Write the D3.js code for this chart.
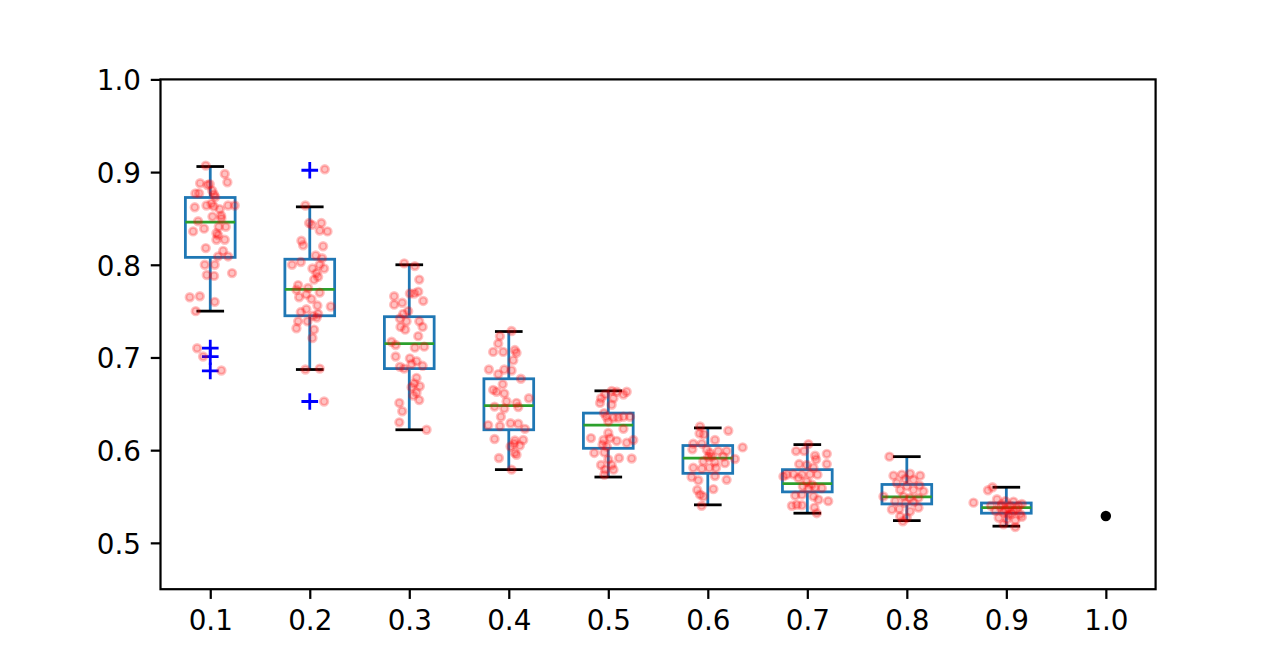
<!DOCTYPE html>
<html>
<head>
<meta charset="utf-8">
<script src="https://cdn.jsdelivr.net/npm/d3@7"></script>
<style>
  html, body { margin: 0; padding: 0; background: #fff; }
  svg { display: block; }
  text { font-family: "DejaVu Sans", sans-serif; }
</style>
</head>
<body>
<svg id="chart" width="1284" height="662"></svg>
<script>
// ---------- data ----------
const categories = ["0.1","0.2","0.3","0.4","0.5","0.6","0.7","0.8","0.9","1.0"];
const yTicks = [0.5, 0.6, 0.7, 0.8, 0.9, 1.0];

// box statistics per category (first nine categories)
const whiskerLow  = [0.750, 0.687, 0.622, 0.579, 0.571, 0.541, 0.532, 0.524, 0.518];
const quartile1   = [0.808, 0.745, 0.688, 0.622, 0.602, 0.575, 0.555, 0.542, 0.532];
const medians     = [0.846, 0.7735, 0.715, 0.648, 0.627, 0.5915, 0.564, 0.5495, 0.538];
const quartile3   = [0.8726, 0.806, 0.744, 0.677, 0.640, 0.605, 0.579, 0.563, 0.543];
const whiskerHigh = [0.906, 0.8625, 0.800, 0.728, 0.664, 0.624, 0.606, 0.593, 0.560];
const fliers      = [[0.710, 0.701, 0.6855], [0.902, 0.6525], [], [], [], [], [], [], []];

// the lone value at 1.0
const singleCategory = ["1.0"];
const singleValue = [0.529];

// jittered samples: [horizontal jitter (category units), value]
const samples01 = [[-0.045,0.907],[0.146,0.898],[0.172,0.889],[-0.102,0.888],[-0.005,0.887],[-0.028,0.886],[-0.149,0.877],[-0.112,0.877],[0.038,0.876],[0.012,0.866],[-0.038,0.864],[0.035,0.863],[0.179,0.864],[0.246,0.864],[-0.156,0.862],[0.095,0.860],[0.022,0.852],[0.112,0.850],[-0.122,0.847],[-0.172,0.836],[-0.062,0.839],[0.085,0.841],[0.156,0.841],[0.062,0.834],[0.062,0.827],[0.146,0.827],[-0.045,0.818],[0.129,0.815],[0.079,0.809],[0.179,0.809],[-0.055,0.800],[0.045,0.800],[-0.035,0.789],[0.038,0.788],[0.219,0.791],[-0.206,0.765],[-0.105,0.766],[0.045,0.760],[-0.146,0.750],[-0.132,0.710],[-0.072,0.701],[0.112,0.686],[0.020,0.880],[0.050,0.873],[0.110,0.853],[0.080,0.832]];
const samples02 = [[0.151,0.903],[-0.044,0.864],[-0.007,0.845],[0.023,0.843],[0.117,0.845],[0.100,0.837],[0.178,0.836],[-0.084,0.826],[-0.067,0.821],[0.134,0.820],[0.060,0.810],[0.124,0.807],[-0.178,0.800],[-0.090,0.803],[0.027,0.796],[0.100,0.800],[0.144,0.796],[0.067,0.791],[0.084,0.787],[0.043,0.784],[-0.117,0.778],[-0.017,0.775],[-0.134,0.773],[0.100,0.770],[-0.107,0.765],[-0.034,0.768],[0.017,0.763],[0.077,0.756],[0.211,0.755],[-0.034,0.752],[-0.090,0.749],[0.033,0.745],[0.084,0.747],[-0.117,0.739],[-0.023,0.739],[-0.134,0.7315],[0.043,0.730],[0.027,0.721],[-0.044,0.687],[0.100,0.688],[0.144,0.6525],[0.070,0.743]];
const samples03 = [[-0.051,0.8015],[0.056,0.7986],[0.100,0.784],[-0.152,0.766],[0.006,0.769],[0.050,0.769],[0.090,0.771],[0.140,0.761],[-0.152,0.757],[-0.071,0.759],[-0.011,0.750],[-0.061,0.747],[-0.094,0.742],[-0.027,0.739],[0.100,0.739],[-0.088,0.733],[-0.041,0.730],[0.134,0.733],[0.090,0.723],[-0.178,0.717],[-0.137,0.7135],[0.056,0.7106],[0.150,0.7117],[-0.137,0.701],[0.006,0.699],[0.073,0.696],[0.023,0.693],[-0.094,0.690],[-0.051,0.688],[0.134,0.691],[0.073,0.678],[0.050,0.672],[0.106,0.669],[0.023,0.668],[0.073,0.662],[0.040,0.659],[0.100,0.654],[-0.100,0.651],[-0.071,0.642],[-0.100,0.630],[0.174,0.622]];
const samples04 = [[0.028,0.7286],[-0.089,0.723],[-0.106,0.715],[-0.157,0.706],[-0.056,0.706],[0.061,0.708],[0.078,0.705],[0.045,0.697],[-0.200,0.687],[-0.045,0.687],[0.028,0.686],[-0.106,0.682],[0.122,0.677],[-0.061,0.671],[-0.157,0.665],[-0.123,0.663],[-0.045,0.661],[0.202,0.656],[-0.022,0.6525],[0.078,0.651],[-0.143,0.647],[-0.045,0.645],[0.095,0.6465],[-0.079,0.636],[-0.207,0.627],[-0.089,0.626],[0.018,0.629],[0.095,0.6285],[0.162,0.623],[-0.143,0.612],[0.061,0.6105],[0.145,0.611],[0.018,0.604],[0.111,0.605],[0.061,0.597],[0.078,0.595],[-0.099,0.5915],[0.028,0.579],[0.055,0.607]];
const samples05 = [[0.034,0.664],[0.085,0.663],[0.185,0.663],[-0.033,0.660],[-0.073,0.656],[0.052,0.656],[0.152,0.660],[-0.083,0.651],[0.034,0.649],[-0.043,0.640],[-0.020,0.636],[0.052,0.635],[0.100,0.635],[0.152,0.636],[0.218,0.636],[0.000,0.631],[0.152,0.623],[0.000,0.6185],[-0.174,0.613],[-0.048,0.611],[0.017,0.613],[0.085,0.610],[0.185,0.608],[0.251,0.611],[-0.058,0.606],[-0.015,0.604],[-0.141,0.597],[-0.040,0.5976],[0.108,0.5915],[0.235,0.591],[0.000,0.590],[-0.073,0.584],[0.034,0.584],[-0.033,0.579],[0.052,0.579],[-0.040,0.5735]];
const samples06 = [[-0.078,0.6256],[0.206,0.621],[-0.083,0.618],[-0.040,0.617],[0.072,0.611],[-0.146,0.607],[-0.060,0.607],[0.350,0.603],[-0.155,0.601],[-0.010,0.6005],[0.022,0.597],[0.105,0.599],[0.189,0.599],[0.039,0.593],[0.156,0.593],[0.273,0.5905],[-0.045,0.588],[0.072,0.587],[0.172,0.586],[-0.146,0.581],[-0.060,0.580],[0.016,0.581],[0.083,0.581],[-0.163,0.571],[-0.095,0.5675],[0.072,0.572],[0.189,0.568],[0.056,0.558],[-0.106,0.557],[-0.078,0.552],[-0.045,0.550],[-0.062,0.540],[0.005,0.5926]];
const samples07 = [[0.011,0.6065],[-0.113,0.599],[-0.032,0.599],[0.078,0.594],[0.196,0.596],[0.088,0.590],[-0.082,0.585],[-0.005,0.584],[0.196,0.585],[0.062,0.581],[-0.139,0.574],[-0.206,0.5736],[-0.240,0.5717],[-0.054,0.5736],[0.028,0.574],[0.102,0.5736],[-0.089,0.570],[-0.005,0.566],[0.045,0.563],[-0.045,0.561],[0.078,0.560],[0.011,0.5585],[0.146,0.559],[-0.122,0.551],[-0.054,0.552],[0.062,0.550],[0.112,0.5466],[-0.105,0.541],[-0.155,0.540],[-0.054,0.5405],[0.210,0.545],[0.072,0.538],[0.095,0.532]];
const samples08 = [[-0.175,0.593],[-0.134,0.5725],[-0.050,0.5736],[0.033,0.5746],[0.134,0.5725],[-0.017,0.569],[0.067,0.568],[-0.100,0.5646],[0.127,0.562],[0.000,0.561],[-0.067,0.557],[0.067,0.557],[0.167,0.5556],[-0.235,0.550],[-0.034,0.550],[0.033,0.5485],[0.117,0.5485],[-0.117,0.545],[-0.017,0.543],[0.067,0.544],[-0.150,0.536],[-0.075,0.5366],[0.033,0.534],[0.117,0.538],[-0.067,0.5286],[0.000,0.527],[-0.040,0.5233]];
const samples09 = [[-0.139,0.560],[-0.185,0.5567],[-0.330,0.5434],[-0.094,0.547],[-0.011,0.545],[0.072,0.5445],[0.156,0.542],[-0.155,0.540],[-0.064,0.539],[0.023,0.537],[0.106,0.536],[-0.110,0.5345],[-0.028,0.533],[0.056,0.5316],[0.140,0.531],[-0.077,0.527],[0.006,0.5254],[0.090,0.524],[-0.028,0.520],[0.090,0.517],[0.156,0.528],[-0.044,0.5416],[0.039,0.540],[-0.011,0.536],[0.072,0.5345],[0.023,0.530],[0.125,0.540]];
const samplesByCategory = [samples01, samples02, samples03, samples04, samples05, samples06, samples07, samples08, samples09];

// ---------- layout ----------
const W = 1284, H = 662;
const plot = { left: 160.5, right: 1155.6, top: 79.4, bottom: 589.2 };
const PT = 2.78;                // pixels per point
const FONT = 27.8;

const svg = d3.select("#chart");

const x = d3.scaleLinear().domain([0.5, categories.length + 0.5]).range([plot.left, plot.right]);
const y = d3.scaleLinear().domain([0.45, 1.0]).range([plot.bottom, plot.top]);
const posOf = label => categories.indexOf(label) + 1;

const boxHalf = 0.25, capHalf = 0.125;
const boxColor = "#1f77b4", medianColor = "#2ca02c";
const lw = 1.0 * PT;

const gBox = svg.append("g");
const boxData = d3.range(whiskerLow.length).map(i => ({
  pos: i + 1, lo: whiskerLow[i], q1: quartile1[i], med: medians[i], q3: quartile3[i], hi: whiskerHigh[i], fl: fliers[i]
}));

const b = gBox.selectAll("g.box").data(boxData).join("g").attr("class", "box");
// whiskers
b.append("line").attr("x1", d => x(d.pos)).attr("x2", d => x(d.pos))
  .attr("y1", d => y(d.q1)).attr("y2", d => y(d.lo))
  .attr("stroke", boxColor).attr("stroke-width", lw);
b.append("line").attr("x1", d => x(d.pos)).attr("x2", d => x(d.pos))
  .attr("y1", d => y(d.q3)).attr("y2", d => y(d.hi))
  .attr("stroke", boxColor).attr("stroke-width", lw);
// caps
b.append("line").attr("x1", d => x(d.pos - capHalf)).attr("x2", d => x(d.pos + capHalf))
  .attr("y1", d => y(d.lo)).attr("y2", d => y(d.lo))
  .attr("stroke", "#000").attr("stroke-width", lw).attr("stroke-linecap", "square");
b.append("line").attr("x1", d => x(d.pos - capHalf)).attr("x2", d => x(d.pos + capHalf))
  .attr("y1", d => y(d.hi)).attr("y2", d => y(d.hi))
  .attr("stroke", "#000").attr("stroke-width", lw).attr("stroke-linecap", "square");
// box
b.append("rect").attr("x", d => x(d.pos - boxHalf)).attr("width", d => x(d.pos + boxHalf) - x(d.pos - boxHalf))
  .attr("y", d => y(d.q3)).attr("height", d => y(d.q1) - y(d.q3))
  .attr("fill", "none").attr("stroke", boxColor).attr("stroke-width", lw);
// median
b.append("line").attr("x1", d => x(d.pos - boxHalf)).attr("x2", d => x(d.pos + boxHalf))
  .attr("y1", d => y(d.med)).attr("y2", d => y(d.med))
  .attr("stroke", medianColor).attr("stroke-width", lw);
// fliers (+)
const plusHalf = 3 * PT;
b.each(function(d) {
  const g = d3.select(this);
  g.selectAll("path.flier").data(d.fl).join("path").attr("class", "flier")
    .attr("d", v => `M${x(d.pos) - plusHalf},${y(v)}H${x(d.pos) + plusHalf}M${x(d.pos)},${y(v) - plusHalf}V${y(v) + plusHalf}`)
    .attr("stroke", "#0000ff").attr("stroke-width", lw).attr("fill", "none");
});

// jittered samples
const gPts = svg.append("g");
samplesByCategory.forEach((arr, i) => {
  gPts.selectAll(null).data(arr).join("circle")
    .attr("cx", d => x(i + 1 + d[0]))
    .attr("cy", d => y(d[1]))
    .attr("r", 3.8)
    .attr("fill", "#ff0000").attr("fill-opacity", 0.24)
    .attr("stroke", "#ff0000").attr("stroke-opacity", 0.24).attr("stroke-width", 2.8);
});

// lone point at 1.0
svg.append("g").selectAll("circle").data(singleValue).join("circle")
  .attr("cx", (d, i) => x(posOf(singleCategory[i])))
  .attr("cy", d => y(d))
  .attr("r", 5.2)
  .attr("fill", "#000");

// ---------- axes ----------
const tickLen = 3.5 * PT;
const xAxis = d3.axisBottom(x)
  .tickValues(d3.range(1, categories.length + 1))
  .tickFormat(v => categories[v - 1])
  .tickSizeInner(tickLen).tickSizeOuter(0).tickPadding(11.5);
const gx = svg.append("g").attr("transform", `translate(0,${plot.bottom})`).call(xAxis);
gx.select(".domain").remove();
gx.selectAll(".tick line").attr("stroke", "#000").attr("stroke-width", 0.8 * PT);
gx.selectAll(".tick text").attr("fill", "#000").style("font-size", FONT + "px").style("font-family", "DejaVu Sans");

const yAxis = d3.axisLeft(y)
  .tickValues(yTicks)
  .tickFormat(d3.format(".1f"))
  .tickSizeInner(tickLen).tickSizeOuter(0).tickPadding(3.5 * PT);
const gy = svg.append("g").attr("transform", `translate(${plot.left},0)`).call(yAxis);
gy.select(".domain").remove();
gy.selectAll(".tick line").attr("stroke", "#000").attr("stroke-width", 0.8 * PT);
gy.selectAll(".tick text").attr("fill", "#000").attr("dy", "0.37em")
  .style("font-size", FONT + "px").style("font-family", "DejaVu Sans");

// frame (spines)
svg.append("rect")
  .attr("x", plot.left).attr("y", plot.top)
  .attr("width", plot.right - plot.left).attr("height", plot.bottom - plot.top)
  .attr("fill", "none").attr("stroke", "#000").attr("stroke-width", 0.8 * PT);
</script>
</body>
</html>
